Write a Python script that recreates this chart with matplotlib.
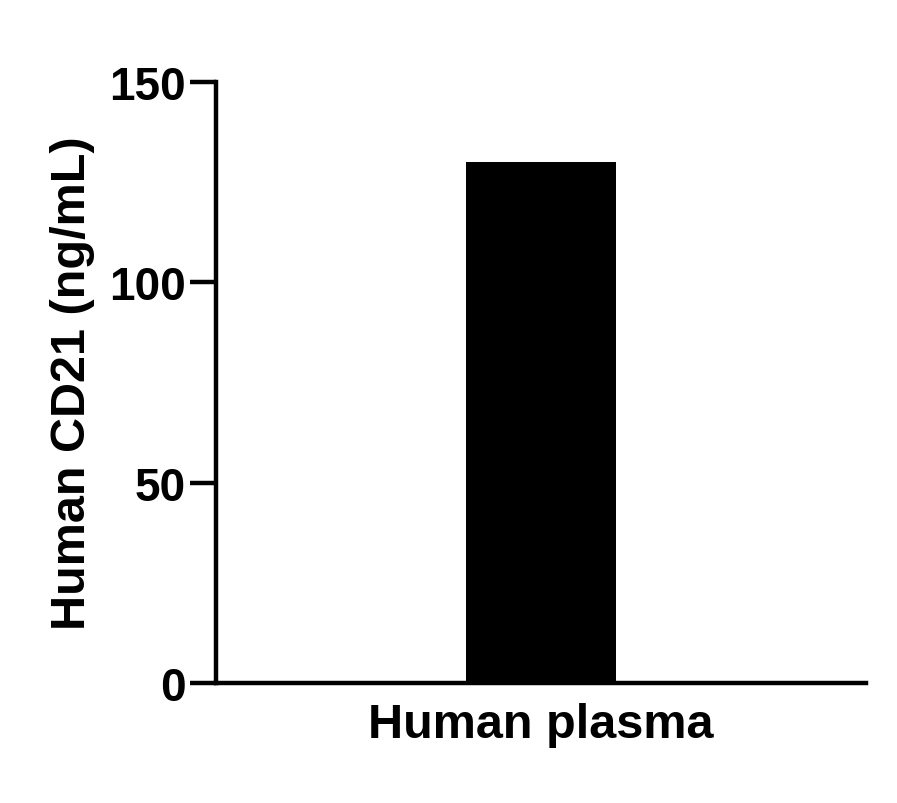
import matplotlib
matplotlib.use("Agg")
import matplotlib.pyplot as plt

categories = ["Human plasma"]
values = [130]
yticks = [0, 50, 100, 150]

plt.rcParams['font.family'] = ['Liberation Sans', 'DejaVu Sans']
fig = plt.figure(figsize=(8.97, 8.04), dpi=100)
ax = fig.add_axes([0.2408, 0.1493, 0.7246, 0.7475])
ax.bar([0], values, width=1.0, color='black')
ax.set_xlim(-2.18, 2.18)
ax.set_ylim(0, 150)
ax.set_yticks(yticks)
ax.set_yticklabels([str(t) for t in yticks], fontsize=33, fontweight='bold')
ax.set_xticks([])
ax.set_xlabel(categories[0], fontsize=35, fontweight='bold', labelpad=14)
ax.set_ylabel("Human CD21 (ng/mL)", fontsize=35, fontweight='bold', labelpad=10)
for s in ['top', 'right']:
    ax.spines[s].set_visible(False)
for s in ['left', 'bottom']:
    ax.spines[s].set_linewidth(3.2)
ax.tick_params(axis='y', length=19, width=3.2, pad=3)
fig.savefig("out.png", dpi=100)
